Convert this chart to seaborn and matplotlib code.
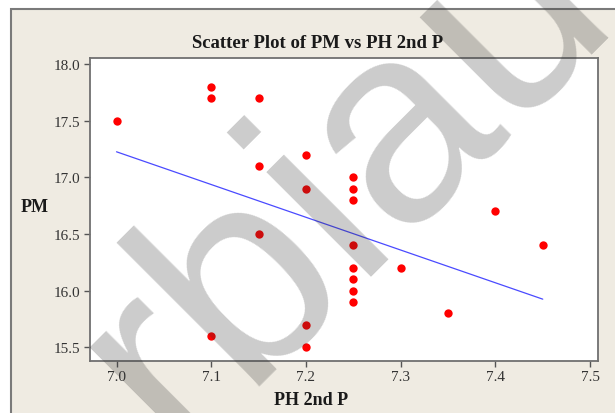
import matplotlib
matplotlib.use("Agg")
import matplotlib.pyplot as plt
import matplotlib.patches as patches
import seaborn as sns
import pandas as pd

ph_2nd_p = [7.0, 7.1, 7.1, 7.1, 7.15, 7.15, 7.15, 7.2, 7.2, 7.2, 7.2,
            7.25, 7.25, 7.25, 7.25, 7.25, 7.25, 7.25, 7.25,
            7.3, 7.35, 7.4, 7.45]
pm = [17.5, 17.8, 17.7, 15.6, 17.7, 17.1, 16.5, 17.2, 16.9, 15.7, 15.5,
      17.0, 16.9, 16.8, 16.4, 16.2, 16.1, 16.0, 15.9,
      16.2, 15.8, 16.7, 16.4]
x_ticks = [7.0, 7.1, 7.2, 7.3, 7.4, 7.5]
y_ticks = [15.5, 16.0, 16.5, 17.0, 17.5, 18.0]

df = pd.DataFrame({"PH 2nd P": ph_2nd_p, "PM": pm})

sns.set_style("white")
plt.rcParams["font.family"] = ["Liberation Serif", "DejaVu Serif"]

fig = plt.figure(figsize=(6.15, 4.14), dpi=100)
fig.patch.set_facecolor("white")

# beige Minitab frame running off the right and bottom edges
frame = patches.Rectangle((11 / 615, -0.2), 1.2, 1.2 - 10 / 414,
                          transform=fig.transFigure, facecolor="#efebe2",
                          edgecolor="#7a7a7a", linewidth=1.5, zorder=-5)
fig.patches.append(frame)

ax = fig.add_axes([90 / 615, 1 - 361.7 / 414, 507.7 / 615, 302.4 / 414])
ax.set_facecolor("white")

sns.regplot(data=df, x="PH 2nd P", y="PM", ci=None, ax=ax,
            scatter_kws={"color": "#ff0000", "s": 36, "linewidths": 0,
                         "alpha": 1, "zorder": 3},
            line_kws={"color": "#4a4aff", "linewidth": 0.9, "zorder": 2})

ax.set_xlim(6.972, 7.508)
ax.set_ylim(15.383, 18.05)
ax.set_xticks(x_ticks)
ax.set_yticks(y_ticks)
ax.set_xticklabels([f"{v:.1f}" for v in x_ticks])
ax.set_yticklabels([f"{v:.1f}" for v in y_ticks])
ax.tick_params(direction="out", length=4, width=1, color="#555555",
               labelcolor="#333333", labelsize=11, left=True, bottom=True, pad=3)
for sp in ax.spines.values():
    sp.set_color("#707070")
    sp.set_linewidth(1.3)

fig.text(318 / 615, 1 - 43 / 414, "Scatter Plot of PM vs PH 2nd P",
         fontsize=13.5, fontweight="bold", color="#1a1a1a", ha="center", va="center")
fig.text(311 / 615, 1 - 401 / 414, "PH 2nd P",
         fontsize=13, fontweight="bold", color="#1a1a1a", ha="center", va="center")
ax.set_xlabel("")
ax.set_ylabel("PM", fontsize=13, fontweight="bold", color="#1a1a1a",
              rotation=0, labelpad=0)
ax.yaxis.set_label_coords(-0.109, 0.482)

# diagonal watermark over everything
fig.text(176 / 615, 1 - 452 / 414, "rbiau", fontsize=202, family="Liberation Sans",
         color="#333333", alpha=0.25, rotation=45, rotation_mode="anchor",
         ha="left", va="baseline", zorder=10)

fig.savefig("out.png", dpi=100)
